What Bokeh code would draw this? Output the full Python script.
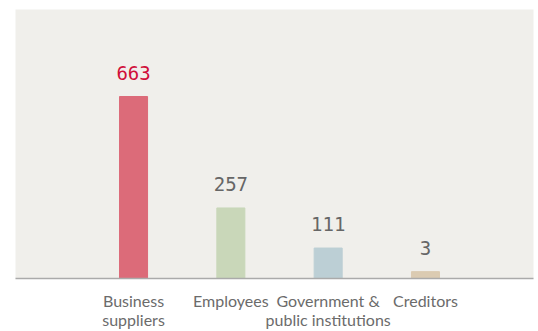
from bokeh.plotting import figure
from bokeh.models import Range1d, FixedTicker, ColumnDataSource, LabelSet
from bokeh.core.properties import value
from bokeh.embed import file_html
from bokeh.resources import INLINE

categories = ["Business\nsuppliers", "Employees", "Government &\npublic institutions", "Creditors"]
values = [663, 257, 111, 3]
bar_colors = ["#dc6b79", "#c9d7b9", "#bccfd5", "#dbcbb2"]
label_colors = ["#d0103a", "#666666", "#666666", "#666666"]

positions = [0.5 + i for i in range(len(values))]
# keep very small values visible as a short stub
MIN_VISIBLE = 25
tops = [max(v, MIN_VISIBLE) for v in values]

source = ColumnDataSource(dict(
    x=positions, top=tops, value=[str(v) for v in values],
    color=bar_colors, label_color=label_colors,
))

p = figure(
    width=538, height=331,
    x_range=Range1d(-0.713, 4.61), y_range=Range1d(0, 980),
    output_backend="svg", toolbar_location=None,
    min_border_left=15, min_border_right=5, min_border_top=9, min_border_bottom=0,
)
p.background_fill_color = "#f0efeb"
p.border_fill_color = "#ffffff"
p.outline_line_color = None
p.xgrid.visible = False
p.ygrid.visible = False
p.yaxis.visible = False

p.vbar(x="x", top="top", bottom=0, width=0.288, color="color", source=source)

# value labels above the bars
labels = LabelSet(
    x="x", y="top", text="value", source=source,
    text_align="center", text_baseline="alphabetic", y_offset=17,
    text_font=value("DejaVu Sans Mono"), text_font_size=value("19px"),
    text_color="label_color",
)
p.add_layout(labels)

# baseline axis carrying the category names
xa = p.xaxis[0]
xa.ticker = FixedTicker(ticks=positions)
xa.major_label_overrides = {pos: cat for pos, cat in zip(positions, categories)}
xa.axis_line_color = "#aaaaaa"
xa.axis_line_width = 1.5
xa.major_tick_line_color = None
xa.minor_tick_line_color = None
xa.major_tick_out = 0
xa.major_label_standoff = 12
xa.major_label_text_font = "Lato"
xa.major_label_text_font_size = "16px"
xa.major_label_text_color = "#6b6b6b"
xa.major_label_text_line_height = 1.0

open("out.html", "w").write(file_html(p, INLINE))
